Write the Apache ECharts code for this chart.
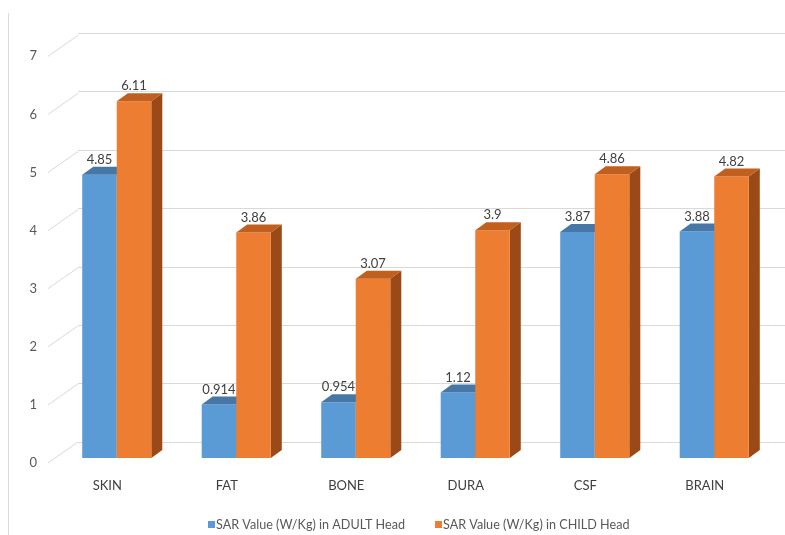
<!DOCTYPE html>
<html>
<head>
<meta charset="utf-8">
<script src="https://cdn.jsdelivr.net/npm/echarts@6/dist/echarts.min.js"></script>
<style>html,body{margin:0;padding:0;background:#fff}#c{width:785px;height:535px}</style>
</head>
<body>
<div id="c"></div>
<script>
var categories = ['SKIN', 'FAT', 'BONE', 'DURA', 'CSF', 'BRAIN'];
var adultValues = [4.85, 0.914, 0.954, 1.12, 3.87, 3.88];
var childValues = [6.11, 3.86, 3.07, 3.9, 4.86, 4.82];
var seriesNames = ['SAR Value (W/Kg) in ADULT Head', 'SAR Value (W/Kg) in CHILD Head'];
var yTicks = [0, 1, 2, 3, 4, 5, 6, 7];

var FONT = 'Lato';
var faceColors = [
  { front: '#5b9bd5', top: '#4677a6', side: '#3d6a94' },
  { front: '#ed7d31', top: '#c05f1e', side: '#9b4a17' }
];
var DX = 11, DY = -8;

function barRender(sIdx) {
  return function (params, api) {
    var i = api.value(0), v = api.value(1);
    var top = api.coord([i, v]);
    var base = api.coord([i, 0]);
    var band = api.size([1, 0])[0];
    var bw = band * 0.289;
    var x0 = sIdx === 0 ? top[0] - bw : top[0];
    var x1 = x0 + bw;
    var yt = top[1], yb = base[1];
    var c = faceColors[sIdx];
    return {
      type: 'group',
      children: [
        { type: 'polygon', shape: { points: [[x1, yt], [x1 + DX, yt + DY], [x1 + DX, yb + DY], [x1, yb]] }, style: { fill: c.side } },
        { type: 'rect', shape: { x: x0, y: yt, width: bw, height: yb - yt }, style: { fill: c.front } },
        { type: 'polygon', shape: { points: [[x0, yt], [x0 + DX, yt + DY], [x1 + DX, yt + DY], [x1, yt]] }, style: { fill: c.top } },
        { type: 'text', x: x0 + bw / 2, y: yt - 15, style: { text: String(v), fill: '#404040', font: '13px ' + FONT, align: 'center', verticalAlign: 'middle' } }
      ]
    };
  };
}

var option = {
  animation: false,
  backgroundColor: '#fff',
  textStyle: { fontFamily: FONT },
  graphic: [
    { type: 'line', shape: { x1: 8.5, y1: 13, x2: 8.5, y2: 535 }, style: { stroke: '#d9d9d9', lineWidth: 1 } }
  ],
  legend: {
    left: 203, top: 513,
    itemWidth: 7, itemHeight: 7, itemGap: 30,
    icon: 'rect',
    textStyle: { fontFamily: FONT, fontSize: 12.6, color: '#595959', padding: [0, 0, 0, -4] },
    data: seriesNames
  },
  grid: [
    { left: 57, right: 11, top: 49.2, bottom: 77 },
    { left: 78, right: 0, top: 33.2, bottom: 93 },
    { left: 48, right: 100, top: 56.3, bottom: 72 }
  ],
  xAxis: [
    { gridIndex: 0, type: 'category', data: categories, axisLine: { show: false }, axisTick: { show: false },
      axisLabel: { margin: 21, color: '#404040', fontFamily: FONT, fontSize: 13, padding: [0, 19, 0, 0] } },
    { gridIndex: 1, type: 'value', min: 0, max: 1, show: false },
    { gridIndex: 2, type: 'value', min: 0, max: 1, show: false }
  ],
  yAxis: [
    { gridIndex: 0, type: 'value', min: 0, max: 7, interval: 1, show: false },
    { gridIndex: 1, type: 'value', min: 0, max: 7, interval: 1, axisLine: { show: false }, axisTick: { show: false },
      axisLabel: { show: false }, splitLine: { lineStyle: { color: '#d9d9d9', width: 1 } } },
    { gridIndex: 2, type: 'value', min: 0, max: 7, interval: 1, axisLine: { show: false }, axisTick: { show: false },
      axisLabel: { margin: 11, color: '#595959', fontFamily: FONT, fontSize: 13 }, splitLine: { show: false } }
  ],
  series: [
    {
      type: 'custom', name: 'walls', xAxisIndex: 2, yAxisIndex: 2, silent: true,
      data: yTicks.map(function (t) { return [0, t]; }),
      renderItem: function (params, api) {
        var p = api.coord([0, api.value(1)]);
        return { type: 'line', shape: { x1: p[0], y1: p[1], x2: p[0] + 30, y2: p[1] - 21 }, style: { stroke: '#d9d9d9', lineWidth: 1 } };
      }
    },
    {
      type: 'custom', name: seriesNames[0], xAxisIndex: 0, yAxisIndex: 0,
      itemStyle: { color: faceColors[0].front },
      data: adultValues.map(function (v, i) { return [i, v]; }),
      renderItem: barRender(0)
    },
    {
      type: 'custom', name: seriesNames[1], xAxisIndex: 0, yAxisIndex: 0,
      itemStyle: { color: faceColors[1].front },
      data: childValues.map(function (v, i) { return [i, v]; }),
      renderItem: barRender(1)
    }
  ]
};

var chart = echarts.init(document.getElementById('c'), null, { renderer: 'canvas' });
chart.setOption(option);
</script>
</body>
</html>
